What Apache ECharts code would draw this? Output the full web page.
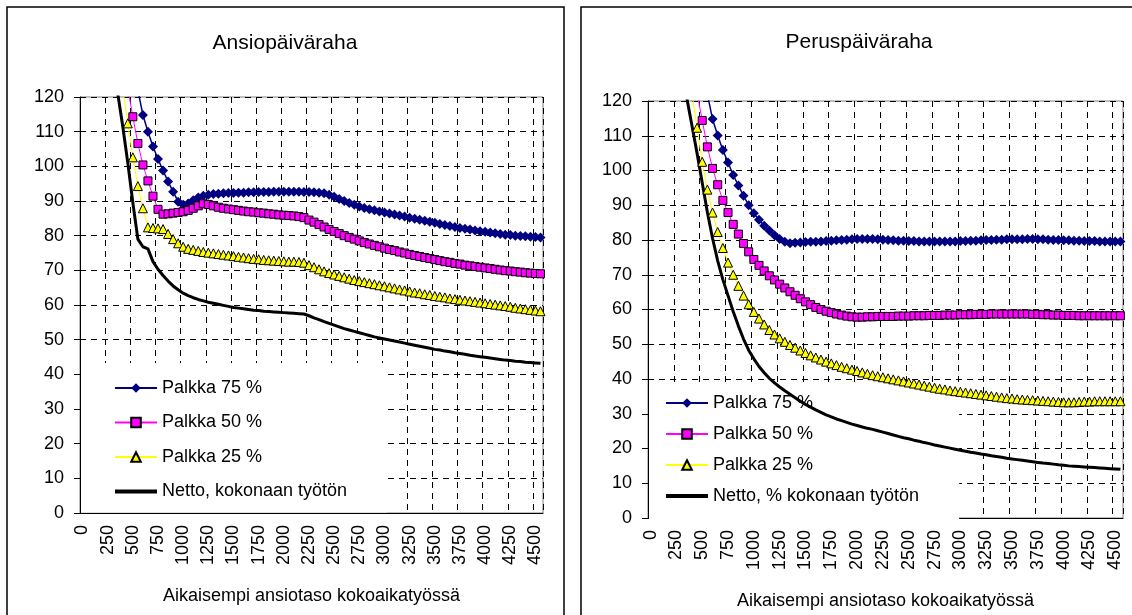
<!DOCTYPE html>
<html>
<head>
<meta charset="utf-8">
<title>Ansiopäiväraha ja peruspäiväraha</title>
<script src="https://cdn.jsdelivr.net/npm/echarts@6/dist/echarts.min.js"></script>
<style>
  html, body { margin: 0; padding: 0; background: #fff; }
  #chart { width: 1132px; height: 615px; }
</style>
</head>
<body>
<div id="chart"></div>
<script>
// aikaisempi ansiotaso, 50 välein
const tuloluokat = [
  '0', '50', '100', '150', '200', '250', '300', '350', '400', '450',
  '500', '550', '600', '650', '700', '750', '800', '850', '900', '950',
  '1000', '1050', '1100', '1150', '1200', '1250', '1300', '1350', '1400', '1450',
  '1500', '1550', '1600', '1650', '1700', '1750', '1800', '1850', '1900', '1950',
  '2000', '2050', '2100', '2150', '2200', '2250', '2300', '2350', '2400', '2450',
  '2500', '2550', '2600', '2650', '2700', '2750', '2800', '2850', '2900', '2950',
  '3000', '3050', '3100', '3150', '3200', '3250', '3300', '3350', '3400', '3450',
  '3500', '3550', '3600', '3650', '3700', '3750', '3800', '3850', '3900', '3950',
  '4000', '4050', '4100', '4150', '4200', '4250', '4300', '4350', '4400', '4450',
  '4500', '4550'
];

const otsikot = ['Ansiopäiväraha', 'Peruspäiväraha'];
const nettoNimet = ['Netto, kokonaan työtön', 'Netto, % kokonaan työtön'];
const palkkaNimet = ['Palkka 75 %', 'Palkka 50 %', 'Palkka 25 %'];

// Ansiopäiväraha
const ansio75 = [
  null, null, null, null, null, null, null, null, null, null,
  131, 122, 114.8, 110, 105.7, 102.1, 98.8, 95.6, 92.7, 89.8,
  88.9, 89.3, 90.2, 91.0, 91.5, 91.8, 92.0, 92.1, 92.2, 92.3,
  92.3, 92.4, 92.4, 92.5, 92.5, 92.6, 92.6, 92.6, 92.7, 92.7,
  92.7, 92.7, 92.7, 92.7, 92.6, 92.6, 92.5, 92.4, 92.2, 91.8,
  91.2, 90.6, 90.0, 89.4, 88.9, 88.4, 88.0, 87.6, 87.3, 87.0,
  86.7, 86.4, 86.1, 85.8, 85.5, 85.2, 84.9, 84.6, 84.3, 84.0,
  83.7, 83.4, 83.1, 82.8, 82.5, 82.2, 82.0, 81.8, 81.5, 81.3,
  81.1, 80.9, 80.7, 80.5, 80.3, 80.2, 80.0, 79.9, 79.8, 79.7,
  79.6, 79.5
];
const ansio50 = [
  null, null, null, null, null, null, null, null, 135, 122.5,
  114.3, 106.6, 100.4, 95.8, 91.4, 87.6, 86.2, 86.3, 86.5, 86.7,
  86.9, 87.3, 87.9, 88.6, 89.2, 89.0, 88.6, 88.2, 87.9, 87.7,
  87.5, 87.3, 87.1, 86.9, 86.8, 86.6, 86.5, 86.3, 86.2, 86.0,
  85.9, 85.8, 85.7, 85.5, 85.2, 84.5, 83.9, 83.2, 82.5, 81.8,
  81.2, 80.6, 80.0, 79.5, 79.0, 78.5, 78.0, 77.6, 77.2, 76.8,
  76.4, 76.0, 75.7, 75.3, 75.0, 74.6, 74.3, 74.0, 73.7, 73.4,
  73.1, 72.8, 72.5, 72.3, 72.0, 71.8, 71.5, 71.3, 71.1, 70.9,
  70.7, 70.5, 70.3, 70.1, 69.9, 69.8, 69.6, 69.5, 69.3, 69.2,
  69.1, 69.0
];
const ansio25 = [
  null, null, null, null, null, null, null, 135, 122.4, 112.4,
  102.6, 94.3, 87.9, 82.4, 82.2, 82.1, 81.9, 80.5, 79.0, 77.8,
  76.8, 76.2, 75.9, 75.6, 75.3, 75.1, 74.9, 74.7, 74.5, 74.3,
  74.1, 73.9, 73.7, 73.5, 73.3, 73.2, 73.0, 72.9, 72.8, 72.7,
  72.6, 72.5, 72.5, 72.4, 72.2, 71.5, 70.9, 70.3, 69.7, 69.2,
  68.8, 68.4, 68.0, 67.6, 67.2, 66.9, 66.6, 66.3, 66.0, 65.7,
  65.4, 65.1, 64.8, 64.5, 64.2, 63.9, 63.6, 63.4, 63.1, 62.9,
  62.6, 62.4, 62.2, 61.9, 61.7, 61.5, 61.3, 61.1, 60.9, 60.7,
  60.5, 60.3, 60.1, 59.9, 59.7, 59.5, 59.2, 59.0, 58.8, 58.6,
  58.4, 58.2
];
const ansioNetto = [
  null, null, null, null, null, null, 135, 121, 111.5, 101,
  89.5, 79, 76.8, 76.2, 72.5, 70.3, 68.5, 66.9, 65.5, 64.4,
  63.4, 62.7, 62.1, 61.6, 61.2, 60.8, 60.5, 60.2, 59.9, 59.6,
  59.3, 59.1, 58.9, 58.7, 58.5, 58.4, 58.2, 58.1, 58.0, 57.9,
  57.8, 57.7, 57.6, 57.5, 57.4, 56.9, 56.3, 55.8, 55.2, 54.7,
  54.2, 53.7, 53.2, 52.8, 52.4, 52.0, 51.6, 51.2, 50.8, 50.5,
  50.2, 49.9, 49.6, 49.3, 49.0, 48.7, 48.4, 48.1, 47.8, 47.5,
  47.2, 47.0, 46.7, 46.5, 46.2, 46.0, 45.8, 45.5, 45.3, 45.1,
  44.9, 44.7, 44.5, 44.3, 44.1, 44.0, 43.8, 43.7, 43.5, 43.4,
  43.3, 43.2
];

// Peruspäiväraha
const perus75 = [
  null, null, null, null, null, null, null, null, null, null,
  131, 122, 114.8, 110.1, 105.9, 102.3, 98.7, 95.7, 92.7, 90.0,
  87.7, 85.8, 84.1, 82.7, 81.4, 80.3, 79.5, 79.1, 79.2, 79.3,
  79.4, 79.5, 79.5, 79.6, 79.7, 79.8, 79.9, 80.0, 80.1, 80.2,
  80.3, 80.3, 80.3, 80.3, 80.2, 80.1, 80.0, 79.9, 79.8, 79.8,
  79.7, 79.7, 79.6, 79.6, 79.6, 79.6, 79.6, 79.6, 79.6, 79.6,
  79.7, 79.7, 79.8, 79.8, 79.9, 80.0, 80.0, 80.1, 80.1, 80.2,
  80.2, 80.2, 80.2, 80.3, 80.3, 80.2, 80.2, 80.1, 80.0, 80.0,
  79.9, 79.9, 79.8, 79.8, 79.7, 79.7, 79.7, 79.6, 79.6, 79.6,
  79.6, 79.6
];
const perus50 = [
  null, null, null, null, null, null, null, null, 135, 122.5,
  114.4, 106.8, 100.6, 95.9, 91.4, 87.9, 84.5, 81.7, 79.0, 76.6,
  74.4, 72.7, 71.1, 69.7, 68.5, 67.3, 66.2, 65.1, 64.1, 63.1,
  62.2, 61.4, 60.6, 60.0, 59.5, 59.1, 58.7, 58.4, 58.1, 57.9,
  57.8, 57.8, 57.9, 57.9, 58.0, 58.0, 58.0, 58.0, 58.1, 58.1,
  58.1, 58.2, 58.2, 58.2, 58.3, 58.3, 58.3, 58.4, 58.4, 58.4,
  58.5, 58.5, 58.5, 58.6, 58.6, 58.6, 58.7, 58.7, 58.7, 58.7,
  58.7, 58.7, 58.7, 58.7, 58.6, 58.6, 58.5, 58.5, 58.4, 58.4,
  58.3, 58.3, 58.3, 58.2, 58.2, 58.2, 58.2, 58.2, 58.2, 58.2,
  58.2, 58.2
];
const perus25 = [
  null, null, null, null, null, null, null, 135, 122.4, 112.3,
  102.5, 94.5, 87.9, 82.3, 77.7, 73.5, 70.0, 66.8, 64.0, 61.5,
  59.3, 57.4, 55.7, 54.1, 52.8, 51.7, 50.7, 49.8, 49.0, 48.2,
  47.5, 46.8, 46.2, 45.6, 45.0, 44.5, 44.0, 43.5, 43.1, 42.7,
  42.3, 41.9, 41.5, 41.1, 40.8, 40.5, 40.2, 39.9, 39.6, 39.3,
  39.0, 38.7, 38.4, 38.1, 37.8, 37.5, 37.2, 37.0, 36.7, 36.5,
  36.3, 36.1, 35.9, 35.7, 35.5, 35.3, 35.1, 34.9, 34.7, 34.5,
  34.4, 34.2, 34.1, 34.0, 33.9, 33.8, 33.7, 33.6, 33.5, 33.4,
  33.3, 33.3, 33.3, 33.4, 33.5, 33.5, 33.6, 33.6, 33.6, 33.6,
  33.6, 33.6
];
const perusNetto = [
  null, null, null, null, null, null, 135, 121, 113, 105,
  96.5, 88, 80.5, 74, 68.6, 64.0, 59.4, 55.3, 51.5, 48.3,
  45.8, 43.6, 41.8, 40.2, 38.9, 37.7, 36.6, 35.6, 34.6, 33.6,
  32.7, 31.9, 31.1, 30.4, 29.7, 29.1, 28.5, 28.0, 27.5, 27.0,
  26.6, 26.2, 25.8, 25.5, 25.1, 24.7, 24.3, 23.9, 23.5, 23.1,
  22.8, 22.4, 22.1, 21.7, 21.4, 21.0, 20.7, 20.4, 20.1, 19.8,
  19.5, 19.2, 18.9, 18.7, 18.4, 18.2, 17.9, 17.7, 17.5, 17.2,
  17.0, 16.8, 16.6, 16.4, 16.2, 16.0, 15.8, 15.7, 15.5, 15.3,
  15.2, 15.0, 14.9, 14.8, 14.7, 14.6, 14.5, 14.4, 14.3, 14.2,
  14.1, 14.0
];

const FONT = "'Liberation Sans', Arial, sans-serif";
const dash = [6, 5];

const chart = echarts.init(document.getElementById('chart'));

function xAkseli(i) {
  return {
    type: 'category',
    gridIndex: i,
    data: tuloluokat,
    boundaryGap: true,
    name: 'Aikaisempi ansiotaso kokoaikatyössä',
    nameLocation: 'middle',
    nameGap: 74,
    nameTextStyle: {fontSize: 18, color: '#000', fontFamily: FONT},
    axisLine: {lineStyle: {color: '#000', width: 1}},
    axisTick: {interval: 4, length: 5, lineStyle: {color: '#000'}},
    axisLabel: {interval: 4, rotate: 90, margin: 12, fontSize: 18, color: '#000', fontFamily: FONT},
    splitLine: {show: true, interval: 4, lineStyle: {color: '#000', type: dash, width: 1}}
  };
}

function yAkseli(i) {
  return {
    type: 'value',
    gridIndex: i,
    min: 0,
    max: 120,
    interval: 10,
    axisLine: {show: true, lineStyle: {color: '#000', width: 1}},
    axisTick: {show: true, length: 6, lineStyle: {color: '#000'}},
    axisLabel: {margin: 16, fontSize: 18, color: '#000', fontFamily: FONT},
    splitLine: {show: true, lineStyle: {color: '#000', type: dash, width: 1}}
  };
}

function sarjat(i, d75, d50, d25, netto) {
  const base = {type: 'line', xAxisIndex: i, yAxisIndex: i, showAllSymbol: true, animation: false, z: 2};
  return [
    Object.assign({}, base, {
      name: palkkaNimet[0], data: d75, symbol: 'diamond', symbolSize: 10,
      lineStyle: {color: '#000080', width: 1.5},
      itemStyle: {color: '#000080'}
    }),
    Object.assign({}, base, {
      name: palkkaNimet[1], data: d50, symbol: 'rect', symbolSize: 8,
      lineStyle: {color: '#FF00FF', width: 1},
      itemStyle: {color: '#FF00FF', borderColor: '#000', borderWidth: 1}
    }),
    Object.assign({}, base, {
      name: palkkaNimet[2], data: d25, symbol: 'triangle', symbolSize: 9,
      lineStyle: {color: '#FFFF00', width: 1},
      itemStyle: {color: '#FFFF00', borderColor: '#000', borderWidth: 1}
    }),
    Object.assign({}, base, {
      name: nettoNimet[i], data: netto, symbol: 'none',
      lineStyle: {color: '#000', width: 3},
      itemStyle: {color: '#000'}
    })
  ];
}

// selitteen rivit; nettokäyrällä pelkkä paksu viiva ilman merkkiä
function selite(i) {
  return palkkaNimet.concat([{
    name: nettoNimet[i],
    itemStyle: {color: 'rgba(0,0,0,0)', borderWidth: 0, opacity: 0},
    lineStyle: {color: '#000', width: 4}
  }]);
}

const legendBase = {
  orient: 'vertical',
  itemWidth: 42,
  itemHeight: 12,
  backgroundColor: '#fff',
  z: 1,
  selectedMode: false,
  textStyle: {fontSize: 18, color: '#000', fontFamily: FONT, lineHeight: 20}
};

chart.setOption({
  animation: false,
  grid: [
    {left: 80, top: 97, width: 463, height: 416, show: true, borderColor: '#808080', borderWidth: 1},
    {left: 648, top: 101, width: 475, height: 423, show: true, borderColor: '#808080', borderWidth: 1}
  ],
  xAxis: [xAkseli(0), xAkseli(1)],
  yAxis: [yAkseli(0), yAkseli(1)],
  legend: [
    Object.assign({}, legendBase, {
      left: 81, top: 363, itemGap: 14.5, padding: [15, 40, 11, 32],
      data: selite(0)
    }),
    Object.assign({}, legendBase, {
      left: 649, top: 385, itemGap: 11, padding: [8, 40, 16, 15],
      data: selite(1)
    })
  ],
  graphic: [
    {type: 'rect', shape: {x: 7, y: 7, width: 557, height: 640}, style: {fill: 'none', stroke: '#000', lineWidth: 1.5}, silent: true},
    {type: 'rect', shape: {x: 581, y: 7, width: 600, height: 640}, style: {fill: 'none', stroke: '#000', lineWidth: 1.5}, silent: true},
    {type: 'text', x: 285, y: 43, style: {text: otsikot[0], font: '21px ' + FONT, fill: '#000', textAlign: 'center', textVerticalAlign: 'middle'}, silent: true},
    {type: 'text', x: 859, y: 42, style: {text: otsikot[1], font: '21px ' + FONT, fill: '#000', textAlign: 'center', textVerticalAlign: 'middle'}, silent: true}
  ],
  series: sarjat(0, ansio75, ansio50, ansio25, ansioNetto)
    .concat(sarjat(1, perus75, perus50, perus25, perusNetto))
});
</script>
</body>
</html>
